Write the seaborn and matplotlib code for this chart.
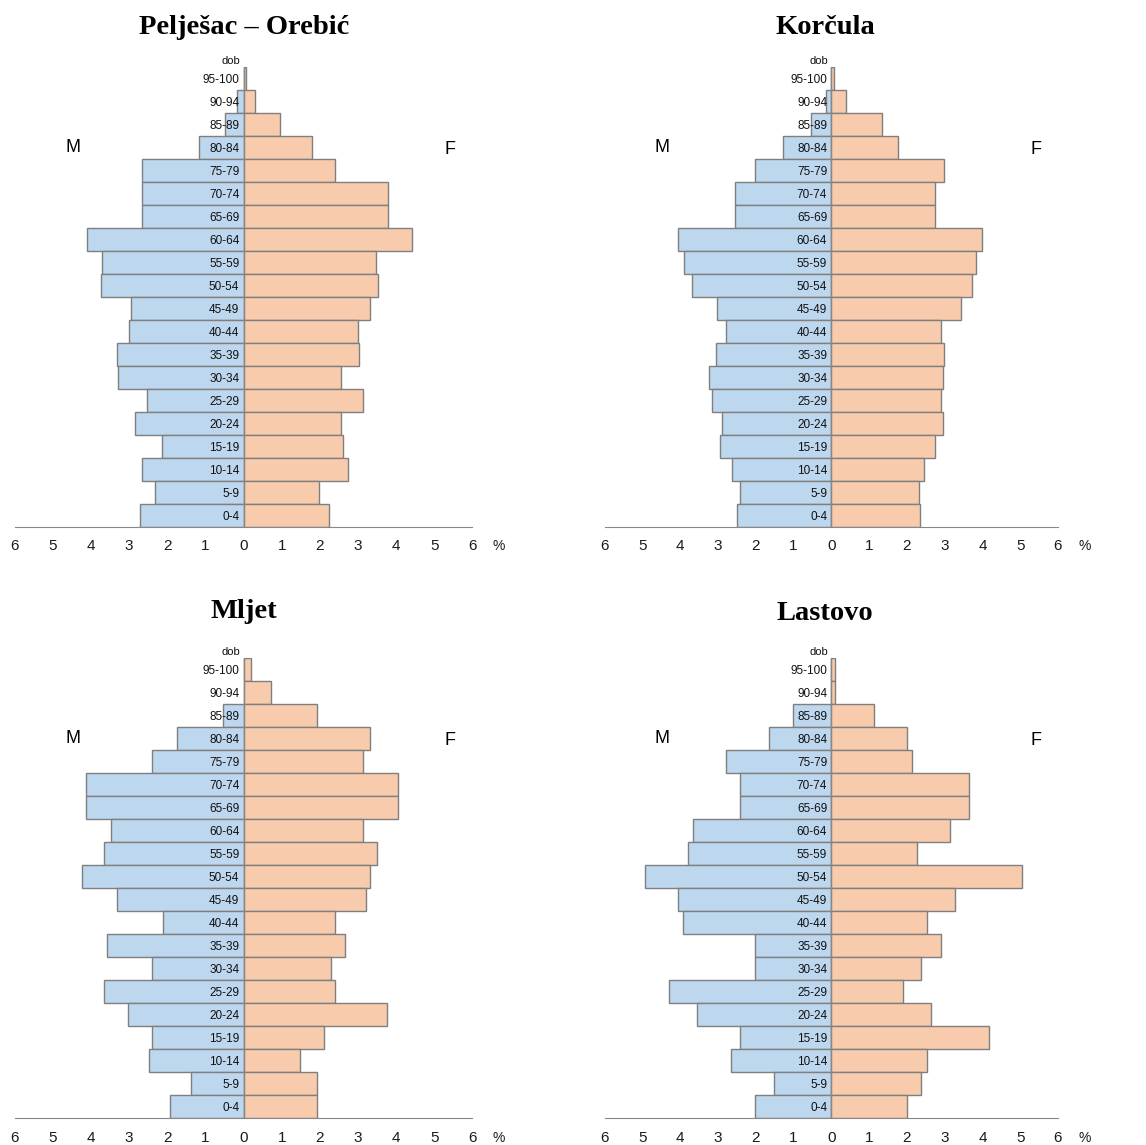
import numpy as np
import pandas as pd
import matplotlib.pyplot as plt
import seaborn as sns

# dobne skupine, od najmlađe prema najstarijoj
ages = ['0-4', '5-9', '10-14', '15-19', '20-24', '25-29', '30-34', '35-39', '40-44',
        '45-49', '50-54', '55-59', '60-64', '65-69', '70-74', '75-79', '80-84',
        '85-89', '90-94', '95-100']

regions = ['Pelješac – Orebić', 'Korčula', 'Mljet', 'Lastovo']

# udio muškaraca (%) po dobnim skupinama
orebic_m = [2.72, 2.32, 2.66, 2.15, 2.85, 2.54, 3.29, 3.32, 3.01, 2.94,
            3.75, 3.72, 4.10, 2.66, 2.66, 2.66, 1.18, 0.48, 0.17, 0.0]
korcula_m = [2.49, 2.43, 2.62, 2.94, 2.89, 3.17, 3.25, 3.05, 2.78, 3.03,
             3.68, 3.91, 4.05, 2.55, 2.55, 2.03, 1.27, 0.53, 0.13, 0.0]
mljet_m = [1.93, 1.38, 2.48, 2.39, 3.03, 3.67, 2.39, 3.58, 2.10, 3.31,
           4.23, 3.67, 3.48, 4.14, 4.14, 2.39, 1.74, 0.55, 0.0, 0.0]
lastovo_m = [2.02, 1.52, 2.66, 2.41, 3.55, 4.30, 2.02, 2.02, 3.92, 4.05,
             4.92, 3.80, 3.67, 2.41, 2.41, 2.80, 1.64, 1.02, 0.0, 0.0]

# udio žena (%) po dobnim skupinama
orebic_f = [2.24, 1.98, 2.75, 2.60, 2.55, 3.14, 2.55, 3.03, 3.00, 3.31,
            3.53, 3.47, 4.43, 3.80, 3.80, 2.41, 1.80, 0.97, 0.31, 0.06]
korcula_f = [2.36, 2.33, 2.45, 2.75, 2.95, 2.91, 2.95, 2.97, 2.89, 3.43,
             3.73, 3.84, 3.98, 2.75, 2.75, 2.97, 1.77, 1.34, 0.39, 0.07]
mljet_f = [1.93, 1.93, 1.47, 2.11, 3.77, 2.39, 2.29, 2.66, 2.39, 3.22,
           3.31, 3.50, 3.14, 4.05, 4.05, 3.14, 3.31, 1.94, 0.73, 0.19]
lastovo_f = [2.01, 2.38, 2.52, 4.17, 2.64, 1.89, 2.38, 2.89, 2.52, 3.27,
             5.04, 2.26, 3.14, 3.65, 3.65, 2.14, 2.01, 1.12, 0.10, 0.10]

male = [orebic_m, korcula_m, mljet_m, lastovo_m]
female = [orebic_f, korcula_f, mljet_f, lastovo_f]

rows = []
for reg, m, f in zip(regions, male, female):
    for a, vm, vf in zip(ages, m, f):
        rows.append({'regija': reg, 'dob': a, 'spol': 'M', 'udio': -vm})
        rows.append({'regija': reg, 'dob': a, 'spol': 'F', 'udio': vf})
df = pd.DataFrame(rows)

sns.set_style('white')
plt.rcParams['font.family'] = ['Liberation Sans', 'DejaVu Sans']
plt.rcParams['text.color'] = 'black'

W, H = 1146, 1145
fig = plt.figure(figsize=(W / 100, H / 100), dpi=100)

# položaji panela u pikselima: lijevo, desno, gore, dolje
boxes = [(14.7, 472.3, 67, 527), (604.7, 1058, 67, 527),
         (14.7, 472.3, 658, 1118), (604.7, 1058, 658, 1118)]
title_x = [244, 825, 244, 825]
title_y = [28, 28, 612, 613]

edge = '#7f7f7f'
order = ages[::-1]

for i, reg in enumerate(regions):
    l, r, t, b = boxes[i]
    ax = fig.add_axes([l / W, 1 - b / H, (r - l) / W, (b - t) / H])
    sub = df[df['regija'] == reg]
    sns.barplot(data=sub, y='dob', x='udio', hue='spol', order=order,
                palette={'M': '#bdd7ee', 'F': '#f8cbad'}, hue_order=['M', 'F'],
                dodge=False, width=1.0, saturation=1, edgecolor=edge,
                linewidth=1.0, legend=False, ax=ax)
    ax.set_axisbelow(False)
    ax.set_xlim(-6, 6)
    ax.set_ylim(len(ages) - 0.5, -0.5)
    ax.set_xlabel('')
    ax.set_ylabel('')

    ax.set_xticks(range(-6, 7))
    ax.set_xticklabels([str(abs(v)) for v in range(-6, 7)], fontsize=11, color='#1a1a1a')
    ax.tick_params(axis='x', direction='out', length=5, width=1, color='#888', pad=4)

    for s in ['top', 'right']:
        ax.spines[s].set_visible(False)
    ax.spines['bottom'].set_color('#888')
    ax.spines['left'].set_position(('data', 0))
    ax.spines['left'].set_color('#888')

    ax.set_yticks(range(len(ages)))
    ax.set_yticklabels(order, fontsize=8.5, color='#111')
    ax.tick_params(axis='y', which='major', length=0, pad=3)
    ax.set_yticks(np.arange(-0.5, len(ages), 1.0), minor=True)
    ax.tick_params(axis='y', which='minor', direction='out', length=3, color='#888')

    ax.text(-0.08, -0.75, 'dob', ha='right', va='center', fontsize=8, color='#111')
    ax.text(-4.48, order.index('80-84'), 'M', ha='center', va='center', fontsize=13)
    ax.text(5.42, order.index('80-84') + 0.1, 'F', ha='center', va='center', fontsize=13)
    ax.annotate('%', xy=(6.7, 0), xycoords=('data', 'axes fraction'),
                xytext=(0, -9), textcoords='offset points', ha='center',
                va='top', fontsize=10, color='#1a1a1a')

    fig.text(title_x[i] / W, 1 - title_y[i] / H, reg, ha='center', va='center',
             fontsize=20.5, fontweight='bold', family='Liberation Serif', color='black')

fig.savefig('out.png', dpi=100)
